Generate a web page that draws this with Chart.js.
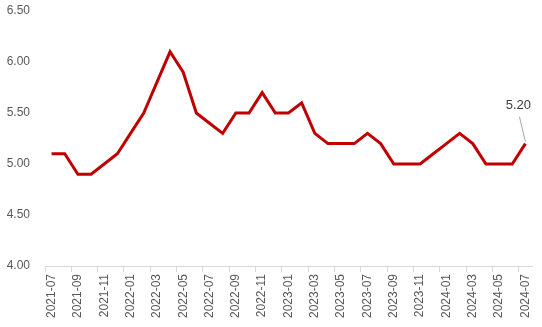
<!DOCTYPE html>
<html>
<head>
<meta charset="utf-8">
<script src="https://cdn.jsdelivr.net/npm/chart.js@4/dist/chart.umd.min.js"></script>
<style>
  html, body { margin: 0; padding: 0; background: #fff; }
  #wrap { width: 542px; height: 327px; position: relative; }
</style>
</head>
<body>
<div id="wrap"><canvas id="chartRate"></canvas></div>
<script>
const months = [
  "2021-07", "2021-08", "2021-09", "2021-10", "2021-11", "2021-12",
  "2022-01", "2022-02", "2022-03", "2022-04", "2022-05", "2022-06",
  "2022-07", "2022-08", "2022-09", "2022-10", "2022-11", "2022-12",
  "2023-01", "2023-02", "2023-03", "2023-04", "2023-05", "2023-06",
  "2023-07", "2023-08", "2023-09", "2023-10", "2023-11", "2023-12",
  "2024-01", "2024-02", "2024-03", "2024-04", "2024-05", "2024-06",
  "2024-07"
];
const rates = [
  5.1, 5.1, 4.9, 4.9, 5.0, 5.1,
  5.3, 5.5, 5.8, 6.1, 5.9, 5.5,
  5.4, 5.3, 5.5, 5.5, 5.7, 5.5,
  5.5, 5.6, 5.3, 5.2, 5.2, 5.2,
  5.3, 5.2, 5.0, 5.0, 5.0, 5.1,
  5.2, 5.3, 5.2, 5.0, 5.0, 5.0,
  5.2
];
const yMin = 4.0;
const yMax = 6.5;
const yStep = 0.5;

// etiqueta do último ponto com linha de chamada
const lastLabel = {
  id: "lastLabel",
  afterDatasetsDraw(chart) {
    const pts = chart.getDatasetMeta(0).data;
    const p = pts[pts.length - 1];
    const ctx = chart.ctx;
    ctx.save();
    ctx.strokeStyle = "#a6a6a6";
    ctx.lineWidth = 1;
    ctx.beginPath();
    ctx.moveTo(p.x - 6, p.y - 27);
    ctx.lineTo(p.x, p.y - 2);
    ctx.stroke();
    ctx.fillStyle = "#404040";
    ctx.font = "13px 'Liberation Sans'";
    ctx.textAlign = "center";
    ctx.textBaseline = "middle";
    ctx.fillText(rates[rates.length - 1].toFixed(2), p.x - 7, p.y - 38);
    ctx.restore();
  }
};

new Chart(document.getElementById("chartRate"), {
  type: "line",
  data: {
    labels: months,
    datasets: [{
      data: rates,
      borderColor: "#c00000",
      borderWidth: 3,
      pointRadius: 0,
      tension: 0,
      fill: false
    }]
  },
  options: {
    responsive: true,
    maintainAspectRatio: false,
    animation: false,
    layout: { padding: { top: 0, right: 10, left: 0, bottom: 0 } },
    plugins: { legend: { display: false }, tooltip: { enabled: false } },
    scales: {
      x: {
        offset: true,
        grid: {
          offset: true,
          drawOnChartArea: false,
          tickLength: 6,
          color: (c) => (c.index % 2 === 0 ? "#d9d9d9" : "rgba(0,0,0,0)")
        },
        border: { color: "#d9d9d9" },
        ticks: {
          autoSkip: false,
          maxRotation: 90,
          minRotation: 90,
          padding: 2,
          color: "#595959",
          font: { family: "Liberation Sans", size: 12 },
          callback: function (v, i) { return i % 2 === 0 ? this.getLabelForValue(v) : ""; }
        },
        afterFit: (s) => { s.height = 61; }
      },
      y: {
        min: yMin,
        max: yMax,
        grid: { display: false },
        border: { display: false },
        ticks: {
          stepSize: yStep,
          padding: 7,
          color: "#595959",
          font: { family: "Liberation Sans", size: 12 },
          callback: (v) => v.toFixed(2)
        },
        afterFit: (s) => { s.width = 45; s.paddingTop = 11; }
      }
    }
  },
  plugins: [lastLabel]
});
</script>
</body>
</html>
